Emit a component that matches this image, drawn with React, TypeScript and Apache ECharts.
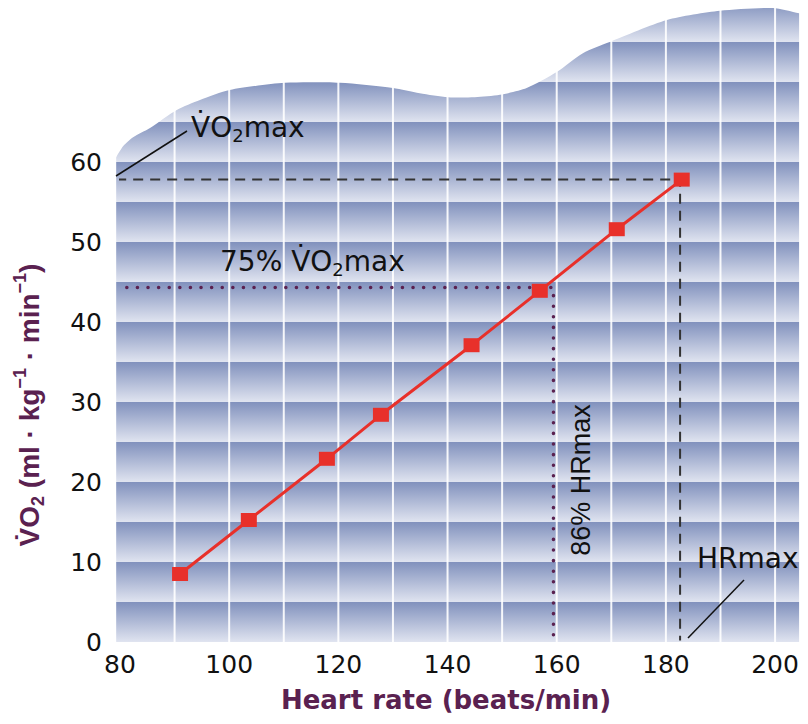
import React, { useEffect, useRef } from "react";
import * as echarts from "echarts";

// ---- data ----
const heartRate = [91.0, 103.6, 117.9, 127.8, 144.4, 156.9, 171.0, 182.9];
const vo2 = [8.5, 15.25, 22.9, 28.4, 37.1, 43.9, 51.6, 57.8];

const xTickLabels = [80, 100, 120, 140, 160, 180, 200];
const yTickLabels = [0, 10, 20, 30, 40, 50, 60];

const vo2Max = 57.8;
const hrMax = 182.6;
const vo2At75 = 44.3;
const hrAt86 = 159.4;

// decorative background: bands every 5 units, columns every 10 bpm
const bandEdges = [0, 5, 10, 15, 20, 25, 30, 35, 40, 45, 50, 55, 60, 65, 70, 75, 80];
const columnLines = [90, 100, 110, 120, 130, 140, 150, 160, 170, 180, 190, 200];
const bgLeftHR = 79.3;
const bgRightHR = 204.4;
// wavy top edge of the background (in heart rate / VO2 units)
const waveHR = [78.6, 79.3, 80.6, 82.4, 85.5, 90.4, 94.65, 100.1, 110.2, 120.3, 130.0, 134.9, 140.1, 145.0, 149.6, 154.5, 160.0, 164.8, 169.7, 180.2, 189.9, 199.6, 204.4];
const waveVO2 = [59.8, 60.6, 62.0, 63.1, 64.25, 66.5, 67.75, 69.0, 69.9, 69.9, 69.25, 68.6, 68.1, 68.1, 68.4, 69.25, 71.25, 73.6, 75.0, 77.75, 78.9, 79.25, 78.6];

const PURPLE = "#5a2150";
const HFONT = "'DejaVu Sans', sans-serif";
const VFONT = "'Liberation Sans', Arial, sans-serif";

export default function App() {
  const ref = useRef<HTMLDivElement>(null);

  useEffect(() => {
    if (!ref.current) return;
    const chart = echarts.init(ref.current, undefined, { renderer: "svg" });

    const bandData = bandEdges.slice(0, -1).map((e, i) => [e, bandEdges[i + 1]]);
    const bandGradient = new echarts.graphic.LinearGradient(0, 0, 0, 1, [
      { offset: 0, color: "#8191bd" },
      { offset: 1, color: "#e0e4f0" },
    ]);

    const option: any = {
      animation: false,
      grid: { left: 120, right: 10, top: 2, bottom: 82 },
      xAxis: {
        type: "value",
        min: 80,
        max: 204.2,
        interval: 20,
        axisLine: { show: false },
        axisTick: { show: false },
        splitLine: { show: false },
        axisLabel: {
          margin: 10,
          color: "#111",
          fontFamily: HFONT,
          fontSize: 25,
          formatter: (v: number) => (xTickLabels.includes(v) ? String(v) : ""),
        },
      },
      yAxis: {
        type: "value",
        min: 0,
        max: 80,
        interval: 10,
        axisLine: { show: false },
        axisTick: { show: false },
        splitLine: { show: false },
        axisLabel: {
          margin: 18,
          color: "#111",
          fontFamily: HFONT,
          fontSize: 25,
          formatter: (v: number) => (yTickLabels.includes(v) ? String(v) : ""),
        },
      },
      series: [
        {
          type: "custom",
          z: 1,
          silent: true,
          data: bandData,
          renderItem: (params: any, api: any) => {
            const y0 = api.value(0);
            const y1 = api.value(1);
            const tl = api.coord([bgLeftHR, y1]);
            const br = api.coord([bgRightHR, y0]);
            return {
              type: "rect",
              shape: { x: tl[0], y: tl[1], width: br[0] - tl[0], height: br[1] - tl[1] },
              style: { fill: bandGradient },
            };
          },
        },
        {
          type: "custom",
          z: 2,
          silent: true,
          data: columnLines.map((v) => [v, 0]),
          renderItem: (params: any, api: any) => {
            const v = api.value(0);
            const p0 = api.coord([v, 0]);
            const p1 = api.coord([v, 80]);
            return {
              type: "line",
              shape: { x1: p0[0], y1: p0[1], x2: p1[0], y2: p1[1] },
              style: { stroke: "rgba(255,255,255,0.9)", lineWidth: 2 },
            };
          },
        },
        {
          type: "custom",
          z: 3,
          silent: true,
          data: [[0, 0]],
          renderItem: (params: any, api: any) => {
            const pts: number[][] = [api.coord([78.0, 84]), api.coord([78.0, 59.0])];
            waveHR.forEach((h, i) => pts.push(api.coord([h, waveVO2[i]])));
            pts.push(api.coord([204.9, 78.6]));
            pts.push(api.coord([204.9, 84]));
            return {
              type: "polygon",
              shape: { points: pts, smooth: 0.25 },
              style: { fill: "#ffffff" },
            };
          },
        },
        {
          type: "line",
          z: 4,
          silent: true,
          clip: false,
          symbol: "none",
          data: [
            [bgLeftHR, vo2Max],
            [hrMax, vo2Max],
            [hrMax, 0.2],
          ],
          lineStyle: { color: "#333333", width: 2, type: [10, 7] },
        },
        {
          type: "line",
          z: 4,
          silent: true,
          clip: false,
          symbol: "none",
          data: [
            [bgLeftHR, vo2At75],
            [hrAt86, vo2At75],
            [hrAt86, 0.2],
          ],
          lineStyle: { color: PURPLE, width: 3.5, type: [0.1, 10.5], cap: "round" },
        },
        {
          type: "line",
          z: 5,
          clip: false,
          data: heartRate.map((h, i) => [h, vo2[i]]),
          symbol: "rect",
          symbolSize: [16, 14],
          itemStyle: { color: "#e8302a" },
          lineStyle: { color: "#e8302a", width: 3 },
        },
      ],
      graphic: [
        {
          type: "line",
          z: 10,
          shape: { x1: 116, y1: 176, x2: 187, y2: 131 },
          style: { stroke: "#111", lineWidth: 1.5 },
        },
        {
          type: "text",
          z: 10,
          x: 191,
          y: 127,
          style: {
            text: "{a|V\u0307O}{s|2}{a|max}",
            textAlign: "left",
            textVerticalAlign: "middle",
            rich: {
              a: { fontFamily: HFONT, fontSize: 28, lineHeight: 34, fill: "#111" },
              s: { fontFamily: HFONT, fontSize: 18, lineHeight: 16, verticalAlign: "bottom", fill: "#111" },
            },
          },
        },
        {
          type: "text",
          z: 10,
          x: 220,
          y: 261,
          style: {
            text: "{a|75% V\u0307O}{s|2}{a|max}",
            textAlign: "left",
            textVerticalAlign: "middle",
            rich: {
              a: { fontFamily: HFONT, fontSize: 28, lineHeight: 34, fill: "#111" },
              s: { fontFamily: HFONT, fontSize: 18, lineHeight: 16, verticalAlign: "bottom", fill: "#111" },
            },
          },
        },
        {
          type: "text",
          z: 10,
          x: 581,
          y: 480,
          rotation: Math.PI / 2,
          style: {
            text: "86% HRmax",
            textAlign: "center",
            textVerticalAlign: "middle",
            fontFamily: VFONT,
            fontSize: 27,
            fill: "#111",
          },
        },
        {
          type: "text",
          z: 10,
          x: 697,
          y: 558,
          style: {
            text: "HRmax",
            textAlign: "left",
            textVerticalAlign: "middle",
            fontFamily: HFONT,
            fontSize: 28,
            fill: "#111",
          },
        },
        {
          type: "line",
          z: 10,
          shape: { x1: 688, y1: 638, x2: 744, y2: 580 },
          style: { stroke: "#111", lineWidth: 1.5 },
        },
        {
          type: "text",
          z: 10,
          x: 446,
          y: 700,
          style: {
            text: "Heart rate (beats/min)",
            textAlign: "center",
            textVerticalAlign: "middle",
            fontFamily: HFONT,
            fontWeight: "bold",
            fontSize: 26,
            fill: PURPLE,
          },
        },
        {
          type: "text",
          z: 10,
          x: 29,
          y: 405,
          rotation: Math.PI / 2,
          style: {
            text: "{b|V\u0307O}{sub|2}{b| (ml · kg}{sup|\u22121}{b| · min}{sup|\u22121}{b|)}",
            textAlign: "center",
            textVerticalAlign: "middle",
            rich: {
              b: { fontFamily: VFONT, fontWeight: "bold", fontSize: 28, lineHeight: 36, fill: PURPLE },
              sub: { fontFamily: VFONT, fontWeight: "bold", fontSize: 18, lineHeight: 16, verticalAlign: "bottom", fill: PURPLE },
              sup: { fontFamily: VFONT, fontWeight: "bold", fontSize: 18, lineHeight: 16, verticalAlign: "top", fill: PURPLE },
            },
          },
        },
      ],
    };

    chart.setOption(option);
    return () => chart.dispose();
  }, []);

  return (
    <div
      ref={ref}
      style={{ position: "fixed", left: 0, top: 0, width: 808, height: 724, background: "#fff" }}
    />
  );
}
